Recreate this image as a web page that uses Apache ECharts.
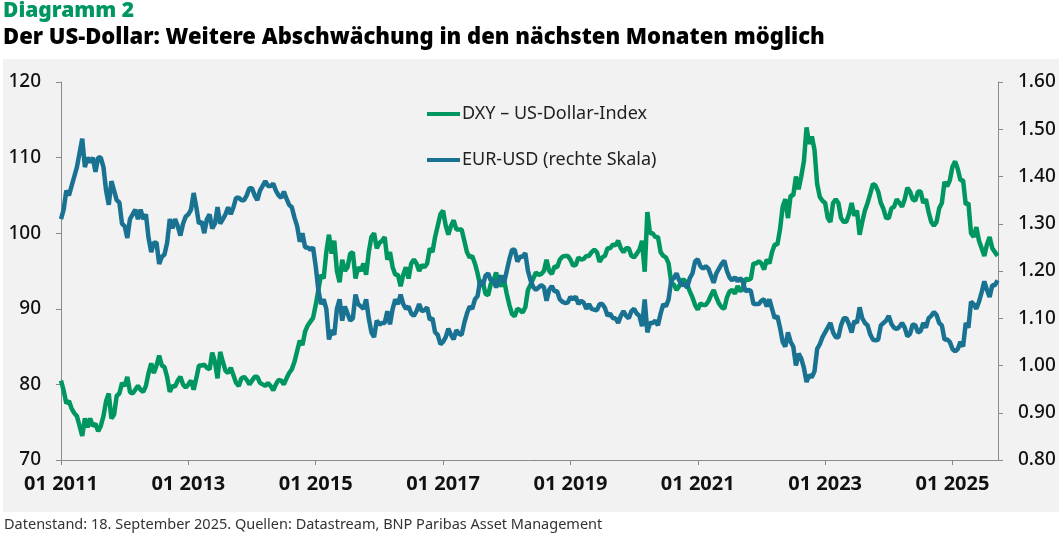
<!DOCTYPE html>
<html>
<head>
<meta charset="utf-8">
<script src="https://cdn.jsdelivr.net/npm/echarts@6/dist/echarts.min.js"></script>
<style>
html,body{margin:0;padding:0;background:#fff;}
#chart{width:1062px;height:537px;}
</style>
</head>
<body>
<div id="chart"></div>
<script>
// Half-monthly samples (1st and 16th of each month) from Jan 2011 to mid-Sep 2025
const startYear = 2011;
const stepYears = 1 / 24;

const dxy = [
  // 2011
  80.5, 79.2, 77.5, 77.8, 76.8, 76.2, 75.8, 74.5, 73.2, 75.5, 74.3, 75.5, 74.5, 74.8, 73.8, 74.5, 75.8, 77.8, 78.8, 75.5, 76.0, 78.5, 78.8, 80.2,
  // 2012
  79.8, 81.0, 79.0, 78.8, 79.3, 79.8, 79.3, 79.0, 79.8, 81.5, 82.8, 81.5, 82.5, 83.8, 82.5, 82.3, 81.0, 79.0, 79.8, 79.7, 80.5, 81.0, 80.0, 79.6,
  // 2013
  80.0, 80.5, 79.3, 80.8, 82.5, 82.5, 82.6, 82.2, 82.0, 84.2, 83.0, 80.8, 84.3, 83.0, 81.8, 81.5, 82.2, 81.2, 80.2, 79.8, 80.8, 81.0, 80.6, 80.0,
  // 2014
  80.5, 81.0, 81.0, 80.2, 80.0, 79.8, 80.2, 79.8, 79.2, 80.0, 80.6, 80.5, 80.0, 80.8, 81.5, 82.0, 83.0, 84.4, 85.8, 85.2, 87.0, 87.8, 88.3, 88.8,
  // 2015
  90.5, 92.5, 94.5, 94.0, 97.5, 99.8, 97.3, 99.0, 95.0, 93.5, 96.5, 95.0, 95.5, 97.3, 97.5, 94.0, 95.5, 95.0, 96.0, 94.5, 97.5, 99.5, 100.0, 98.0,
  // 2016
  98.7, 99.0, 99.5, 96.5, 97.5, 95.5, 94.5, 94.5, 93.0, 94.5, 95.5, 94.0, 96.0, 96.5, 96.0, 95.0, 95.8, 95.5, 96.0, 98.0, 97.5, 99.5, 101.0, 102.5,
  // 2017
  103.0, 101.0, 99.8, 101.0, 101.7, 100.5, 100.5, 100.5, 99.0, 97.5, 96.8, 97.0, 96.0, 94.7, 93.0, 93.5, 92.0, 91.8, 93.3, 93.7, 94.8, 93.4, 93.0, 93.8,
  // 2018
  92.0, 90.5, 89.3, 89.0, 90.0, 89.8, 89.5, 90.2, 92.5, 93.2, 94.0, 94.8, 94.5, 94.6, 95.0, 96.5, 95.0, 94.6, 95.6, 95.5, 96.5, 96.9, 97.0, 97.0,
  // 2019
  96.5, 95.7, 95.8, 96.8, 96.5, 96.6, 97.0, 97.0, 97.5, 97.8, 97.5, 96.2, 96.8, 97.0, 98.0, 98.0, 98.5, 98.4, 99.0, 98.0, 97.5, 98.0, 98.0, 97.0,
  // 2020
  96.8, 97.3, 97.8, 99.0, 94.9, 102.8, 100.0, 100.0, 99.5, 99.5, 97.5, 97.0, 96.8, 96.0, 93.5, 93.2, 92.5, 93.0, 93.8, 93.8, 93.2, 92.3, 91.5, 90.5,
  // 2021
  89.9, 90.7, 90.5, 90.5, 91.0, 91.8, 92.5, 91.5, 90.7, 90.2, 90.0, 91.5, 92.3, 92.5, 92.0, 93.0, 92.3, 92.8, 94.0, 93.8, 94.0, 96.0, 96.0, 96.3,
  // 2022
  96.0, 95.2, 96.5, 96.0, 97.5, 98.5, 98.5, 100.5, 103.5, 104.5, 102.0, 105.0, 105.0, 107.5, 105.8, 107.5, 109.5, 114.0, 111.8, 112.8, 111.0, 106.5, 104.8, 104.3,
  // 2023
  104.0, 102.0, 101.5, 104.0, 104.5, 104.0, 102.0, 101.5, 101.5, 102.5, 104.0, 102.3, 103.0, 99.8, 101.5, 103.0, 104.0, 105.2, 106.5, 106.3, 105.5, 104.0, 103.2, 102.0,
  // 2024
  102.0, 103.3, 103.5, 104.5, 104.0, 103.5, 104.5, 106.0, 105.5, 104.5, 104.3, 105.5, 105.5, 104.0, 104.5, 102.8, 101.5, 101.0, 101.5, 103.3, 104.0, 106.8, 106.2, 107.0,
  // 2025
  108.8, 109.5, 108.5, 107.0, 107.0, 103.8, 104.0, 100.0, 99.5, 100.8, 99.0, 98.0, 97.0, 98.5, 99.5, 98.0, 97.5, 97.0
];

const eurusd = [
  // 2011
  1.31, 1.33, 1.37, 1.36, 1.38, 1.40, 1.42, 1.45, 1.48, 1.42, 1.44, 1.43, 1.44, 1.41, 1.44, 1.44, 1.42, 1.37, 1.34, 1.39, 1.37, 1.35, 1.345, 1.30,
  // 2012
  1.295, 1.27, 1.31, 1.32, 1.33, 1.31, 1.33, 1.31, 1.32, 1.27, 1.24, 1.26, 1.26, 1.215, 1.23, 1.235, 1.26, 1.31, 1.29, 1.31, 1.295, 1.275, 1.30, 1.315,
  // 2013
  1.32, 1.33, 1.365, 1.335, 1.30, 1.305, 1.28, 1.31, 1.32, 1.29, 1.30, 1.335, 1.30, 1.31, 1.32, 1.335, 1.32, 1.335, 1.355, 1.355, 1.35, 1.35, 1.36, 1.375,
  // 2014
  1.375, 1.36, 1.35, 1.37, 1.38, 1.39, 1.38, 1.38, 1.385, 1.37, 1.36, 1.355, 1.368, 1.353, 1.34, 1.335, 1.313, 1.295, 1.262, 1.28, 1.25, 1.25, 1.245, 1.25,
  // 2015
  1.21, 1.16, 1.13, 1.14, 1.12, 1.055, 1.075, 1.065, 1.12, 1.14, 1.095, 1.125, 1.11, 1.095, 1.10, 1.15, 1.13, 1.125, 1.12, 1.14, 1.10, 1.07, 1.06, 1.095,
  // 2016
  1.087, 1.09, 1.09, 1.115, 1.087, 1.12, 1.14, 1.13, 1.15, 1.13, 1.12, 1.125, 1.11, 1.105, 1.115, 1.13, 1.115, 1.117, 1.123, 1.097, 1.10, 1.07, 1.065, 1.045,
  // 2017
  1.05, 1.06, 1.078, 1.065, 1.055, 1.075, 1.067, 1.065, 1.09, 1.11, 1.125, 1.12, 1.14, 1.147, 1.18, 1.17, 1.19, 1.195, 1.18, 1.18, 1.165, 1.18, 1.19, 1.175,
  // 2018
  1.20, 1.225, 1.245, 1.245, 1.22, 1.23, 1.23, 1.238, 1.20, 1.18, 1.166, 1.16, 1.165, 1.17, 1.166, 1.137, 1.16, 1.168, 1.157, 1.157, 1.14, 1.135, 1.132, 1.133,
  // 2019
  1.145, 1.14, 1.146, 1.13, 1.137, 1.133, 1.12, 1.13, 1.12, 1.118, 1.117, 1.13, 1.13, 1.122, 1.105, 1.11, 1.10, 1.10, 1.09, 1.105, 1.115, 1.105, 1.10, 1.115,
  // 2020
  1.12, 1.11, 1.105, 1.083, 1.14, 1.07, 1.09, 1.09, 1.095, 1.085, 1.11, 1.13, 1.125, 1.14, 1.18, 1.185, 1.195, 1.18, 1.17, 1.172, 1.165, 1.185, 1.195, 1.22,
  // 2021
  1.225, 1.21, 1.205, 1.21, 1.205, 1.19, 1.175, 1.195, 1.205, 1.215, 1.222, 1.20, 1.186, 1.18, 1.187, 1.178, 1.185, 1.177, 1.157, 1.16, 1.158, 1.13, 1.13, 1.13,
  // 2022
  1.137, 1.14, 1.125, 1.14, 1.12, 1.10, 1.105, 1.08, 1.05, 1.04, 1.07, 1.05, 1.04, 1.00, 1.025, 1.015, 0.995, 0.965, 0.98, 0.975, 0.988, 1.035, 1.045, 1.06,
  // 2023
  1.07, 1.08, 1.09, 1.07, 1.06, 1.06, 1.085, 1.10, 1.10, 1.087, 1.07, 1.094, 1.09, 1.123, 1.10, 1.09, 1.085, 1.066, 1.055, 1.053, 1.055, 1.085, 1.09, 1.095,
  // 2024
  1.105, 1.088, 1.08, 1.077, 1.082, 1.09, 1.08, 1.062, 1.067, 1.087, 1.085, 1.07, 1.073, 1.09, 1.08, 1.10, 1.105, 1.113, 1.107, 1.09, 1.085, 1.055, 1.055, 1.05,
  // 2025
  1.035, 1.03, 1.035, 1.05, 1.04, 1.09, 1.08, 1.135, 1.13, 1.12, 1.135, 1.155, 1.178, 1.16, 1.145, 1.17, 1.17, 1.18
];

const xTickYears = [0, 2, 4, 6, 8, 10, 12, 14]; // years after Jan 2011
const xEndYears = 14.715; // 18 Sep 2025
const seriesNames = ['DXY \u2013 US-Dollar-Index', 'EUR-USD (rechte Skala)'];
const titleSmall = 'Diagramm 2';
const titleMain = 'Der US-Dollar: Weitere Abschw\u00e4chung in den n\u00e4chsten Monaten m\u00f6glich';
const footnote = 'Datenstand: 18. September 2025. Quellen: Datastream, BNP Paribas Asset Management';

const GREEN = '#00965f';
const BLUE = '#1a7292';
const FONT = '"Noto Sans", "DejaVu Sans", sans-serif';

const toPairs = arr => arr.map((v, i) => [i * stepYears, v]);

const chart = echarts.init(document.getElementById('chart'), null, {renderer: 'canvas'});
chart.setOption({
  animation: false,
  backgroundColor: '#ffffff',
  textStyle: {fontFamily: FONT},
  graphic: [
    {type: 'rect', left: 3, top: 59, shape: {width: 1056, height: 453}, style: {fill: '#f2f2f2'}, z: -10},
    {type: 'text', left: 3, top: 1, style: {text: titleSmall, font: '900 21px ' + FONT, fill: GREEN}},
    {type: 'text', left: 3, top: 27, style: {text: titleMain, font: '900 22px ' + FONT, fill: '#000'}},
    {type: 'text', left: 4, top: 517, style: {text: footnote, font: '14.5px ' + FONT, fill: '#333'}}
  ],
  legend: {
    orient: 'vertical',
    left: 422,
    top: 100,
    itemGap: 28,
    itemWidth: 33,
    itemHeight: 4,
    icon: 'rect',
    textStyle: {fontSize: 18, color: '#222', fontFamily: FONT, padding: [0, 0, 0, -3]},
    data: seriesNames
  },
  grid: {left: 61, right: 64, top: 82, bottom: 77, containLabel: false},
  xAxis: {
    type: 'value',
    min: 0,
    max: xEndYears,
    axisLine: {show: true, lineStyle: {color: '#8a8a8a', width: 1}},
    axisTick: {show: true, length: 5, customValues: xTickYears, lineStyle: {color: '#8a8a8a'}},
    axisLabel: {
      customValues: xTickYears,
      formatter: v => '01 ' + (startYear + Math.round(v)),
      fontSize: 20, fontWeight: 'bold', color: '#111', margin: 14, fontFamily: FONT
    },
    splitLine: {show: false}
  },
  yAxis: [
    {
      type: 'value', min: 70, max: 120, interval: 10, position: 'left',
      axisLine: {show: true, lineStyle: {color: '#8a8a8a', width: 1}},
      axisTick: {show: true, length: 5, lineStyle: {color: '#8a8a8a'}},
      axisLabel: {fontSize: 19, fontWeight: 500, color: '#111', margin: 20, fontFamily: FONT},
      splitLine: {show: false}
    },
    {
      type: 'value', min: 0.8, max: 1.6, interval: 0.1, position: 'right',
      axisLine: {show: true, lineStyle: {color: '#8a8a8a', width: 1}},
      axisTick: {show: true, length: 5, lineStyle: {color: '#8a8a8a'}},
      axisLabel: {fontSize: 19, fontWeight: 500, color: '#111', margin: 20, fontFamily: FONT, formatter: v => v.toFixed(2)},
      splitLine: {show: false}
    }
  ],
  series: [
    {
      name: seriesNames[0], type: 'line', yAxisIndex: 0, showSymbol: false, symbol: 'none',
      data: toPairs(dxy), color: GREEN, lineStyle: {width: 4.5, color: GREEN}, z: 2
    },
    {
      name: seriesNames[1], type: 'line', yAxisIndex: 1, showSymbol: false, symbol: 'none',
      data: toPairs(eurusd), color: BLUE, lineStyle: {width: 4.5, color: BLUE}, z: 3
    }
  ]
});
</script>
</body>
</html>
